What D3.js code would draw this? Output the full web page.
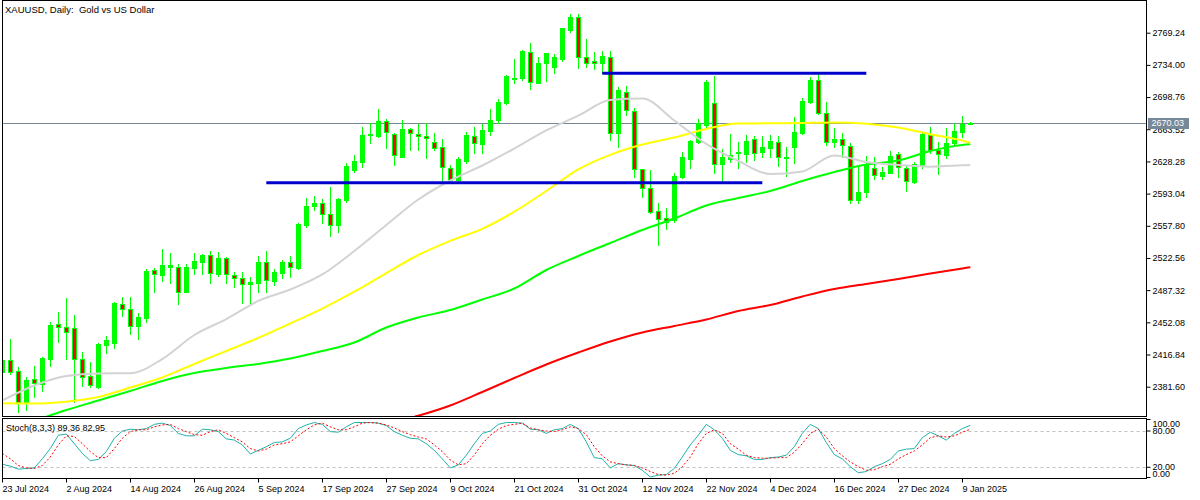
<!DOCTYPE html>
<html><head><meta charset="utf-8">
<script src="https://cdn.jsdelivr.net/npm/d3@7"></script>
<style>
html,body{margin:0;padding:0;background:#fff;}
svg{display:block;font-family:"Liberation Sans",Arial,sans-serif;}
</style></head><body>
<svg id="chart" width="1200" height="500"></svg>
<script>
// ---------- DATA ----------
const dates = [
"2024-07-23","2024-07-24","2024-07-25","2024-07-26","2024-07-29","2024-07-30","2024-07-31",
"2024-08-01","2024-08-02","2024-08-05","2024-08-06","2024-08-07","2024-08-08","2024-08-09","2024-08-12","2024-08-13","2024-08-14","2024-08-15","2024-08-16","2024-08-19","2024-08-20","2024-08-21","2024-08-22","2024-08-23","2024-08-26","2024-08-27","2024-08-28","2024-08-29","2024-08-30",
"2024-09-02","2024-09-03","2024-09-04","2024-09-05","2024-09-06","2024-09-09","2024-09-10","2024-09-11","2024-09-12","2024-09-13","2024-09-16","2024-09-17","2024-09-18","2024-09-19","2024-09-20","2024-09-23","2024-09-24","2024-09-25","2024-09-26","2024-09-27","2024-09-30",
"2024-10-01","2024-10-02","2024-10-03","2024-10-04","2024-10-07","2024-10-08","2024-10-09","2024-10-10","2024-10-11","2024-10-14","2024-10-15","2024-10-16","2024-10-17","2024-10-18","2024-10-21","2024-10-22","2024-10-23","2024-10-24","2024-10-25","2024-10-28","2024-10-29","2024-10-30","2024-10-31",
"2024-11-01","2024-11-04","2024-11-05","2024-11-06","2024-11-07","2024-11-08","2024-11-11","2024-11-12","2024-11-13","2024-11-14","2024-11-15","2024-11-18","2024-11-19","2024-11-20","2024-11-21","2024-11-22","2024-11-25","2024-11-26","2024-11-27","2024-11-28","2024-11-29",
"2024-12-02","2024-12-03","2024-12-04","2024-12-05","2024-12-06","2024-12-09","2024-12-10","2024-12-11","2024-12-12","2024-12-13","2024-12-16","2024-12-17","2024-12-18","2024-12-19","2024-12-20","2024-12-23","2024-12-24","2024-12-26","2024-12-27","2024-12-30","2024-12-31",
"2025-01-02","2025-01-03","2025-01-06","2025-01-07","2025-01-08","2025-01-09","2025-01-10"];

const open = [2398.0,2410.9,2398.8,2365.2,2389.7,2384.5,2411.9,2449.9,2447.3,2445.5,
2412.0,2393.3,2381.6,2427.3,2429.8,2471.8,2466.4,2448.4,2457.2,2509.4,
2504.3,2513.0,2512.4,2485.6,2511.9,2518.5,2525.8,2504.7,2522.2,2503.9,
2500.3,2493.7,2494.9,2517.8,2497.7,2505.8,2517.8,2511.9,2558.7,2579.5,
2582.4,2570.4,2558.7,2586.0,2618.9,2628.0,2657.2,2656.5,2672.5,2658.0,
2633.5,2663.5,2658.3,2656.1,2649.2,2644.4,2621.4,2607.9,2628.8,2656.1,
2647.4,2661.6,2673.7,2692.6,2718.5,2720.0,2747.8,2714.5,2735.7,2732.0,
2740.1,2772.2,2786.8,2743.0,2738.2,2735.7,2743.0,2659.1,2704.6,2683.5,
2619.6,2598.9,2574.3,2566.0,2564.2,2611.6,2630.9,2649.9,2668.2,2691.9,
2625.1,2630.6,2637.2,2636.4,2652.5,2638.9,2643.3,2649.2,2632.3,2643.7,
2659.7,2693.7,2717.5,2681.0,2649.9,2652.5,2645.5,2586.0,2595.2,2620.8,
2612.7,2615.9,2636.1,2620.8,2606.0,2624.4,2657.2,2640.8,2635.3,2648.1,
2660.8,2669.6];
const high = [2413.0,2433.8,2403.5,2392.5,2404.3,2414.5,2452.5,2463.7,2478.4,2460.1,
2419.3,2409.0,2429.1,2437.1,2474.7,2480.2,2480.2,2462.6,2510.5,2511.9,
2532.4,2527.7,2516.0,2515.6,2527.7,2526.6,2530.2,2529.4,2523.5,2507.2,
2506.9,2501.4,2525.1,2530.2,2510.5,2520.4,2525.1,2560.5,2587.9,2590.4,
2587.2,2600.0,2588.0,2626.2,2635.3,2665.7,2670.0,2685.7,2674.7,2659.0,
2673.7,2664.6,2669.3,2670.0,2659.1,2652.8,2624.4,2632.8,2660.8,2666.3,
2669.3,2685.7,2696.6,2722.9,2740.4,2750.0,2758.3,2743.0,2747.5,2745.9,
2774.5,2789.7,2789.7,2762.0,2747.8,2749.2,2749.5,2709.5,2710.9,2687.1,
2620.0,2618.9,2582.4,2577.0,2615.3,2638.9,2651.8,2674.4,2717.0,2721.8,
2641.9,2658.0,2649.9,2657.2,2656.0,2656.1,2657.2,2656.5,2644.4,2677.3,
2697.4,2720.4,2726.5,2693.0,2664.6,2659.1,2648.1,2624.4,2634.6,2633.5,
2622.5,2639.7,2638.9,2624.4,2628.0,2659.1,2665.7,2649.2,2664.6,2670.0,
2678.0,2671.0];
const low = [2396.6,2395.5,2354.2,2356.1,2370.7,2377.2,2404.3,2430.9,2411.6,2364.5,
2382.7,2381.6,2380.0,2418.2,2424.3,2459.0,2439.0,2433.5,2452.5,2485.6,
2497.7,2494.9,2471.9,2485.0,2504.7,2504.7,2494.9,2503.0,2494.9,2491.1,
2473.6,2472.9,2485.6,2485.6,2493.0,2501.0,2502.1,2511.0,2556.0,2575.1,
2561.2,2547.0,2551.3,2584.2,2616.6,2622.5,2648.1,2654.7,2642.7,2624.4,
2632.8,2640.8,2640.8,2631.7,2640.8,2606.0,2606.0,2606.8,2627.0,2637.5,
2637.8,2657.0,2670.0,2691.2,2713.8,2717.4,2707.6,2714.0,2716.7,2724.8,
2738.6,2770.3,2730.9,2732.0,2729.5,2724.8,2651.8,2644.4,2679.1,2611.6,
2589.7,2572.0,2536.8,2554.0,2562.0,2610.0,2620.8,2648.0,2666.0,2616.0,
2606.0,2628.0,2620.8,2628.0,2630.0,2633.5,2632.8,2623.6,2612.7,2626.9,
2658.0,2692.0,2680.0,2646.3,2643.7,2632.8,2583.1,2583.1,2589.7,2608.7,
2609.0,2615.2,2611.6,2596.2,2604.3,2621.4,2637.2,2614.2,2632.0,2646.0,
2655.0,2669.0];
const close = [2410.9,2398.0,2365.2,2388.9,2385.3,2413.4,2449.2,2447.3,2441.8,2411.6,
2392.6,2383.5,2428.4,2432.8,2473.6,2466.4,2448.4,2457.6,2508.3,2504.7,
2514.9,2515.2,2485.6,2512.4,2518.9,2525.8,2505.8,2522.2,2504.7,2500.3,
2493.7,2496.6,2518.5,2498.5,2507.6,2518.5,2512.4,2559.8,2579.5,2582.4,
2570.4,2558.7,2586.8,2623.3,2628.8,2657.2,2658.3,2672.5,2660.2,2635.3,
2663.5,2659.1,2656.1,2653.6,2642.6,2622.5,2607.9,2630.9,2657.2,2648.1,
2662.7,2673.7,2693.7,2721.8,2720.0,2749.2,2715.2,2736.4,2746.7,2743.0,
2774.0,2786.8,2743.0,2735.7,2735.7,2743.7,2659.1,2706.5,2684.6,2619.6,
2598.9,2573.2,2564.9,2562.3,2612.4,2632.8,2650.7,2670.0,2715.6,2625.1,
2632.8,2635.3,2638.6,2650.7,2637.8,2644.4,2650.7,2632.8,2633.4,2660.2,
2694.8,2717.5,2681.0,2649.2,2652.8,2646.3,2586.0,2594.5,2624.4,2613.4,
2617.0,2634.2,2621.9,2606.9,2625.1,2658.0,2640.8,2636.4,2648.8,2661.6,
2669.6,2670.03];

// moving averages, read at every 4th bar (bar index list)
const maIdx = [0,4,8,12,16,20,24,28,32,36,40,44,48,52,56,60,64,68,72,76,80,84,88,92,96,100,104,108,112,116,120,121];
const maGray = [2366.5,2382.9,2393.3,2396.1,2396.3,2411.9,2438.2,2455.7,2475.5,2488.0,2504.5,2530.2,2558.7,2586.6,2607.4,2623.8,2642.4,2662.2,2678.4,2695.6,2697.2,2673.1,2647.4,2628.8,2614.5,2617.3,2634.8,2627.6,2624.4,2622.5,2624.0,2624.4];
const maYellow = [2363.4,2363.2,2365.2,2370.3,2380.7,2391.7,2406.5,2420.7,2435.0,2450.8,2467.2,2485.6,2506.0,2525.8,2541.3,2554.5,2573.2,2595.9,2619.6,2635.5,2646.8,2654.5,2663.8,2669.8,2670.0,2670.4,2670.9,2669.5,2665.4,2658.0,2651.2,2648.8];
const maGreen = [null,2344.0,2356.1,2366.5,2376.9,2387.9,2396.6,2402.1,2406.5,2412.5,2420.7,2430.0,2446.4,2457.4,2465.6,2477.1,2489.1,2509.4,2524.7,2539.0,2553.2,2565.8,2580.0,2588.2,2595.9,2606.9,2616.7,2624.9,2629.3,2639.7,2646.3,2647.0];
const maRed = [null,null,null,null,null,null,null,null,null,null,null,null,2341.0,2349.8,2361.0,2375.8,2391.1,2405.9,2419.0,2431.1,2441.0,2448.1,2455.2,2464.5,2471.1,2480.4,2488.6,2494.1,2499.6,2505.6,2511.1,2512.4];

// stochastic (8,3,3)
const stochK = [25,22,17,18,19,34,51,73,75,59,43,31,33,46,68,80,83,82,84,91,
93,89,76,72,72,83,82,79,67,65,57,42,48,54,61,62,68,84,90,94,
91,79,78,87,94,94,94,93,89,79,73,68,67,59,48,34,19,24,40,59,
76,80,91,94,94,93,83,82,76,82,84,91,84,62,36,34,19,26,24,23,
15,4,7,8,18,37,57,73,91,82,68,48,41,39,33,33,36,37,40,54,
76,91,84,61,41,34,21,11,13,21,26,33,47,50,51,69,78,72,65,76,
84,89.36];
const stochD = [43,34,23,19,18,23,37,57,72,71,59,46,36,36,51,68,79,82,82,87,
90,91,84,79,74,73,79,82,76,69,62,51,47,50,57,59,62,72,82,90,
93,87,82,82,87,93,94,93,90,85,79,74,70,67,57,46,32,24,26,40,
59,73,83,89,91,93,85,82,80,79,82,87,84,74,54,39,29,26,24,23,
19,13,8,7,10,21,37,59,76,82,76,59,50,40,36,35,35,36,36,45,
59,76,83,70,51,39,29,21,15,16,21,25,34,41,47,57,69,72,70,72,
78,82.95];

// horizontal support/resistance lines (price, first bar, last bar)
const levelPrice = [2724.8, 2605.0];
const levelFrom = [75, 33];
const levelTo = [108, 95];

const priceTicks = [2381.60,2416.84,2452.08,2487.32,2522.56,2557.80,2593.04,2628.28,2663.52,2698.76,2734.00,2769.24];
const stochTicks = [100,80,20,0];
const stochLevels = [80,20];
const dateTickLabels = ["23 Jul 2024","2 Aug 2024","14 Aug 2024","26 Aug 2024","5 Sep 2024","17 Sep 2024","27 Sep 2024","9 Oct 2024","21 Oct 2024","31 Oct 2024","12 Nov 2024","22 Nov 2024","4 Dec 2024","16 Dec 2024","27 Dec 2024","9 Jan 2025"];
const dateTickDates = ["2024-07-23","2024-08-02","2024-08-14","2024-08-26","2024-09-05","2024-09-17","2024-09-27","2024-10-09","2024-10-21","2024-10-31","2024-11-12","2024-11-22","2024-12-04","2024-12-16","2024-12-27","2025-01-09"];
const title = "XAUUSD, Daily:  Gold vs US Dollar";
const lastPrice = 2670.03;

// ---------- LAYOUT ----------
const svg = d3.select("#chart");
const PL=2.5, PR=1146.5, PT=0.5, PB=416.5, ST=418.5, SB=478.5;
const x = d3.scaleLinear().domain([0,121]).range([2.3,970.3]);
const y = d3.scaleLinear().domain([2381.60,2769.24]).range([386.7,32.7]);
const ys = d3.scaleLinear().domain([0,100]).range([479.4,418.9]);

svg.append("rect").attr("width",1200).attr("height",500).attr("fill","#fff");

const defs = svg.append("defs");
defs.append("clipPath").attr("id","cm").append("rect").attr("x",PL+0.5).attr("y",PT+0.5).attr("width",PR-PL-1).attr("height",PB-PT-1);
defs.append("clipPath").attr("id","cs").append("rect").attr("x",PL+0.5).attr("y",ST+0.5).attr("width",PR-PL-1).attr("height",SB-ST-1);

const gm = svg.append("g").attr("clip-path","url(#cm)");
const gs = svg.append("g").attr("clip-path","url(#cs)");

// last price line
gm.append("line").attr("x1",PL).attr("x2",PR)
  .attr("y1",Math.round(y(lastPrice))+0.5).attr("y2",Math.round(y(lastPrice))+0.5)
  .attr("stroke","#778899").attr("stroke-width",1);

// candles
const bars = d3.range(dates.length);
const cg = gm.append("g");
bars.forEach(i=>{
  const cx = Math.round(x(i));
  const o=open[i], c=close[i];
  cg.append("line").attr("x1",cx+0.5).attr("x2",cx+0.5)
    .attr("y1",Math.round(y(high[i]))).attr("y2",Math.round(y(low[i]))+1)
    .attr("stroke","#00ff00").attr("stroke-width",1);
  const top = Math.round(y(Math.max(o,c)));
  const bot = Math.round(y(Math.min(o,c)));
  const h = Math.max(1, bot-top+1);
  cg.append("rect").attr("x",cx-2).attr("y",top).attr("width",5).attr("height",h).attr("fill","#00ff00");
  if (c < o && h > 2) {
    cg.append("rect").attr("x",cx-1).attr("y",top+1).attr("width",3).attr("height",h-2).attr("fill","#ff0000");
  }
});

// moving averages
const maLine = d3.line().defined(d=>d[1]!=null).x(d=>x(d[0])).y(d=>y(d[1])).curve(d3.curveMonotoneX);
[[maRed,"#ff0000"],[maGreen,"#00ff00"],[maYellow,"#ffff00"],[maGray,"#d3d3d3"]].forEach(([arr,col])=>{
  gm.append("path").datum(maIdx.map((k,j)=>[k,arr[j]]))
    .attr("d",maLine).attr("fill","none").attr("stroke",col).attr("stroke-width",2);
});

// level lines
levelPrice.forEach((p,j)=>{
  gm.append("line").attr("x1",x(levelFrom[j])).attr("x2",x(levelTo[j]))
    .attr("y1",y(p)).attr("y2",y(p)).attr("stroke","#0000cd").attr("stroke-width",3);
});

// frames
svg.append("rect").attr("x",PL).attr("y",PT).attr("width",PR-PL).attr("height",PB-PT).attr("fill","none").attr("stroke","#000");
svg.append("rect").attr("x",PL).attr("y",ST).attr("width",PR-PL).attr("height",SB-ST).attr("fill","none").attr("stroke","#000");

// title
svg.append("text").attr("x",5).attr("y",13).attr("font-size",9.5).attr("fill","#000")
  .style("white-space","pre").attr("xml:space","preserve").text(title);

// price axis
const ya = d3.axisRight(y).tickValues(priceTicks).tickFormat(d3.format(".2f")).tickSize(4).tickPadding(2);
const yaG = svg.append("g").attr("transform",`translate(${PR},0)`).call(ya);
yaG.select(".domain").remove();
yaG.selectAll("text").attr("font-size",9).attr("font-family","Liberation Sans, Arial, sans-serif").attr("fill","#000");
yaG.selectAll("line").attr("stroke","#000");

// last price label
const lpY = y(lastPrice);
svg.append("rect").attr("x",PR+1.5).attr("y",Math.round(lpY)-5).attr("width",41).attr("height",11).attr("fill","#778899");
svg.append("text").attr("x",PR+5).attr("y",lpY).attr("dy","0.35em").attr("font-size",9).attr("fill","#fff").text(d3.format(".2f")(lastPrice));

// stochastic
stochLevels.forEach(v=>{
  gs.append("line").attr("x1",PL).attr("x2",PR).attr("y1",Math.round(ys(v))+0.5).attr("y2",Math.round(ys(v))+0.5)
    .attr("stroke","#c0c0c0").attr("stroke-dasharray","3,3");
});
const sl = d3.line().x((d,i)=>x(i)).y(d=>ys(d));
gs.append("path").datum(stochK).attr("d",sl).attr("fill","none").attr("stroke","#20b2aa").attr("stroke-width",1);
gs.append("path").datum(stochD).attr("d",sl).attr("fill","none").attr("stroke","#ff0000").attr("stroke-width",1).attr("stroke-dasharray","2,2");
svg.append("text").attr("x",6).attr("y",431).attr("font-size",9).attr("fill","#000")
  .text(`Stoch(8,3,3) ${d3.format(".2f")(stochK[stochK.length-1])} ${d3.format(".2f")(stochD[stochD.length-1])}`);

const sclamp = v => Math.min(SB-5, Math.max(ST+5, ys(v)));
stochTicks.forEach(v=>{
  const ty = Math.min(SB-1, Math.max(ST+1, ys(v)));
  svg.append("line").attr("x1",PR).attr("x2",PR+4).attr("y1",ty).attr("y2",ty).attr("stroke","#000");
  svg.append("text").attr("x",PR+6).attr("y",sclamp(v)).attr("dy","0.35em").attr("font-size",9).attr("fill","#000").text(d3.format(".2f")(v));
});

// date axis
const tickIdx = dateTickDates.map(d=>dates.indexOf(d));
const xa = d3.axisBottom(x).tickValues(tickIdx).tickFormat((d,j)=>dateTickLabels[j]).tickSize(4).tickPadding(3);
const xaG = svg.append("g").attr("transform",`translate(0,${SB})`).call(xa);
xaG.select(".domain").remove();
xaG.selectAll(".tick").attr("transform",d=>`translate(${Math.round(x(d))+0.5},0)`);
xaG.selectAll("line").attr("stroke","#000");
xaG.selectAll("text").attr("text-anchor","start").attr("x",0).attr("dy","0.71em").attr("font-size",9)
  .attr("font-family","Liberation Sans, Arial, sans-serif").attr("fill","#000");
</script>
</body></html>
